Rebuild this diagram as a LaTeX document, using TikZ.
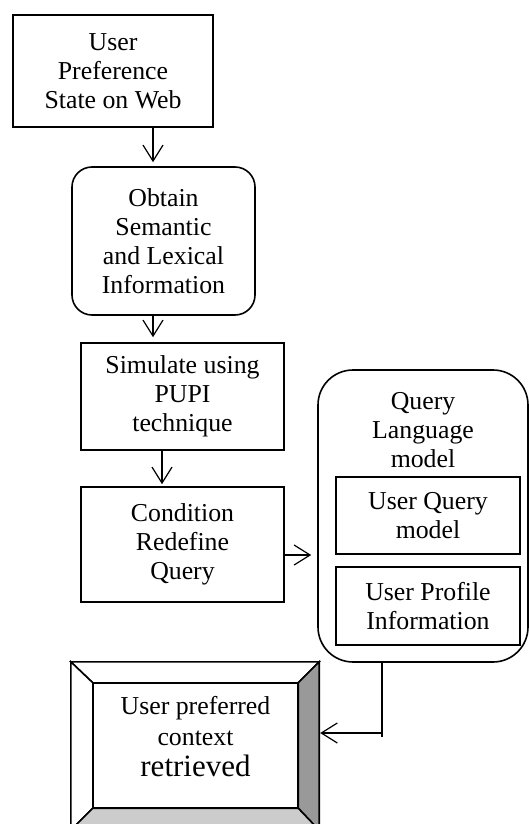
\documentclass[tikz,border=0pt]{standalone}
\usepackage{fontspec}
\setmainfont{Liberation Serif}
\usetikzlibrary{arrows.meta,calc}
\begin{document}
\begin{tikzpicture}[x=1pt,y=-1pt,
  txt/.style={font=\fontsize{25.8}{29}\selectfont, align=center, inner sep=0pt},
  box/.style={draw, line width=1.6pt, txt},
  rbox/.style={box, rounded corners=20pt},
  arr/.style={line width=1.2pt, -{Straight Barb[length=16pt,width=20pt,line width=1.2pt]}},
  line/.style={line width=1.2pt}]
\useasboundingbox (0,0) rectangle (529,824);
% boxes
\node[box, minimum width=200pt, minimum height=112pt] (b1) at (113,71)
  {User\\Preference\\State on Web};
\node[rbox, minimum width=183pt, minimum height=148pt] (b2) at (163.5,241)
  {Obtain\\Semantic\\and Lexical\\Information};
\node[box, minimum width=203pt, minimum height=107pt] (b3) at (182.5,396.5)
  {Simulate using\\PUPI\\technique};
\node[box, minimum width=203pt, minimum height=115pt] (b4) at (182.5,544.5)
  {Condition\\Redefine\\Query};
% query language model container
\node[draw, line width=1.6pt, rounded corners=35pt, minimum width=210pt, minimum height=292pt] (ql) at (423,516) {};
\node[txt] (qlt) at (423,430) {Query\\Language\\model};
\node[box, minimum width=184pt, minimum height=77pt] (uq) at (428,515.5) {User Query\\model};
\node[box, minimum width=184pt, minimum height=78pt] (up) at (428,606) {User Profile\\Information};
% bevel box
\node[minimum width=248pt, minimum height=168pt, inner sep=0pt] (bev) at (195,746) {};
\coordinate (inw) at ([shift={(22,21)}]bev.north west);
\coordinate (ine) at ([shift={(-21,21)}]bev.north east);
\coordinate (ise) at ([shift={(-21,-22)}]bev.south east);
\coordinate (isw) at ([shift={(22,-22)}]bev.south west);
\draw[line width=1.6pt, fill=white] (bev.north west) -- (bev.north east) -- (ine) -- (inw) -- cycle;
\draw[line width=1.6pt, fill=white] (bev.north west) -- (inw) -- (isw) -- (bev.south west) -- cycle;
\draw[line width=1.6pt, fill=black!40] (bev.north east) -- (bev.south east) -- (ise) -- (ine) -- cycle;
\draw[line width=1.6pt, fill=black!20] (bev.south west) -- (isw) -- (ise) -- (bev.south east) -- cycle;
\draw[line width=1.6pt, fill=white] (inw) rectangle (ise);
\node[txt, font=\fontsize{25.8}{31}\selectfont] (bevt) at ($(inw)!0.5!(ise)+(0,-8.5)$) {User preferred\\context\\{\fontsize{31}{39}\selectfont retrieved}};
% connectors
\draw[arr, shorten >=4pt] ([xshift=40pt]b1.south) -- ([xshift=40pt]b1.south |- b2.north);
\draw[arr, shorten >=5pt] ([xshift=-10.5pt]b2.south) -- ([xshift=-10.5pt]b2.south |- b3.north);
\draw[arr, shorten >=2pt] ([xshift=-20.5pt]b3.south) -- ([xshift=-20.5pt]b3.south |- b4.north);
\draw[arr, shorten >=6pt] ([yshift=-10.5pt]b4.east) -- ([yshift=-10.5pt]b4.east -| ql.west);
\coordinate (c1) at (382,737);
\draw[line] (ql.south -| c1) -- (c1);
\draw[arr, shorten >=1pt] ([yshift=4pt]c1) -- ([yshift=13pt]bev.east);
\end{tikzpicture}
\end{document}
